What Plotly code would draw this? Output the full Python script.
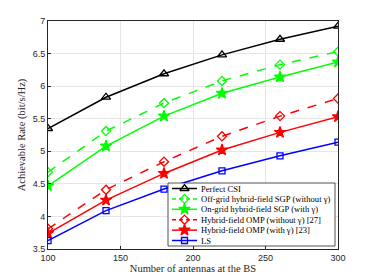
import plotly.graph_objects as go

antennas = [100, 140, 180, 220, 260, 300]
perfect_csi = [5.35, 5.83, 6.19, 6.48, 6.72, 6.92]
offgrid_sgp = [4.68, 5.31, 5.74, 6.08, 6.33, 6.53]
ongrid_sgp = [4.47, 5.08, 5.54, 5.89, 6.14, 6.37]
omp_without = [3.81, 4.41, 4.84, 5.23, 5.54, 5.81]
omp_with = [3.74, 4.25, 4.66, 5.02, 5.29, 5.53]
ls = [3.63, 4.09, 4.42, 4.70, 4.93, 5.14]

names = [
    "Perfect CSI",
    "Off-grid hybrid-field SGP (without γ)",
    "On-grid hybrid-field SGP (with γ)",
    "Hybrid-field OMP (without γ) [27]",
    "Hybrid-field OMP (with γ) [23]",
    "LS",
]
series = [perfect_csi, offgrid_sgp, ongrid_sgp, omp_without, omp_with, ls]
colors = ["#000000", "#00ff00", "#00ff00", "#ff0000", "#ff0000", "#0000ff"]
dashes = ["solid", "dash", "solid", "dash", "solid", "solid"]
symbols = ["triangle-up-open", "diamond-open", "star", "diamond-open", "star", "square-open"]
sizes = [8, 7, 8.5, 7, 8.5, 6]

# page-pixel layout of the plot area
W, H = 374, 280
L, R, T, B = 48, 338, 21, 249

SERIF = "Liberation Serif, DejaVu Serif, serif"
SANS = "Liberation Sans, Arial, sans-serif"

fig = go.Figure()
for n, s, c, d, sym, sz in zip(names, series, colors, dashes, symbols, sizes):
    fig.add_trace(go.Scatter(
        x=antennas, y=s, name=n, mode="lines+markers", showlegend=False,
        line=dict(color=c, width=1.5, dash=d),
        marker=dict(symbol=sym, size=sz, color=c, line=dict(color=c, width=1.3)),
    ))

# custom compact legend drawn on an overlay axis measured in page pixels
leg_x0, leg_x1, leg_y0, leg_y1 = 168, 335, 183, 246
row0, row_step = 188.5, 10.4
samp_x0, samp_x1 = 172, 197
fig.add_trace(go.Scatter(
    x=[leg_x0, leg_x1, leg_x1, leg_x0, leg_x0], y=[leg_y0, leg_y0, leg_y1, leg_y1, leg_y0],
    xaxis="x2", yaxis="y2", mode="lines", fill="toself", fillcolor="white",
    line=dict(color="#262626", width=0.8), showlegend=False, hoverinfo="skip"))
for i, (n, c, d, sym, sz) in enumerate(zip(names, colors, dashes, symbols, sizes)):
    yy = row0 + row_step * i
    fig.add_trace(go.Scatter(
        x=[samp_x0, samp_x1], y=[yy, yy], xaxis="x2", yaxis="y2", mode="lines",
        line=dict(color=c, width=1.5, dash="4px,3px" if d == "dash" else "solid"),
        showlegend=False, hoverinfo="skip"))
    fig.add_trace(go.Scatter(
        x=[(samp_x0 + samp_x1) / 2], y=[yy], xaxis="x2", yaxis="y2", mode="markers",
        marker=dict(symbol=sym, size=sz, color=c, line=dict(color=c, width=1.3)),
        showlegend=False, hoverinfo="skip"))
    fig.add_annotation(x=199, y=yy, xref="x2", yref="y2", text=n, showarrow=False,
                       xanchor="left", yanchor="middle",
                       font=dict(family=SERIF, size=8.6, color="#000000"))

axis_common = dict(
    showline=True, mirror=True, linecolor="#262626", linewidth=1,
    showgrid=True, gridcolor="#e6e6e6", gridwidth=1,
    ticks="inside", ticklen=3, tickcolor="#262626",
    tickfont=dict(family=SANS, size=9, color="#262626"),
    zeroline=False,
)

fig.update_layout(
    width=W, height=H,
    margin=dict(l=L, r=W - R, t=T, b=H - B, autoexpand=False),
    paper_bgcolor="white", plot_bgcolor="white",
    showlegend=False,
    xaxis=dict(range=[100, 300], tickvals=[100, 150, 200, 250, 300],
               title=dict(text="Number of antennas at the BS", standoff=2,
                          font=dict(family=SERIF, size=10.5, color="#262626")),
               **axis_common),
    yaxis=dict(range=[3.5, 7], tickvals=[3.5, 4, 4.5, 5, 5.5, 6, 6.5, 7],
               ticktext=["3.5", "4", "4.5", "5", "5.5", "6", "6.5", "7"],
               title=dict(text="Achievable Rate (bit/s/Hz)", standoff=5,
                          font=dict(family=SERIF, size=10.5, color="#262626")),
               **axis_common),
    xaxis2=dict(overlaying="x", range=[L, R], visible=False, fixedrange=True),
    yaxis2=dict(overlaying="y", range=[B, T], visible=False, fixedrange=True),
)

fig.write_html("out.html", config={"displayModeBar": False},
               post_script="document.body.style.margin='0';")
